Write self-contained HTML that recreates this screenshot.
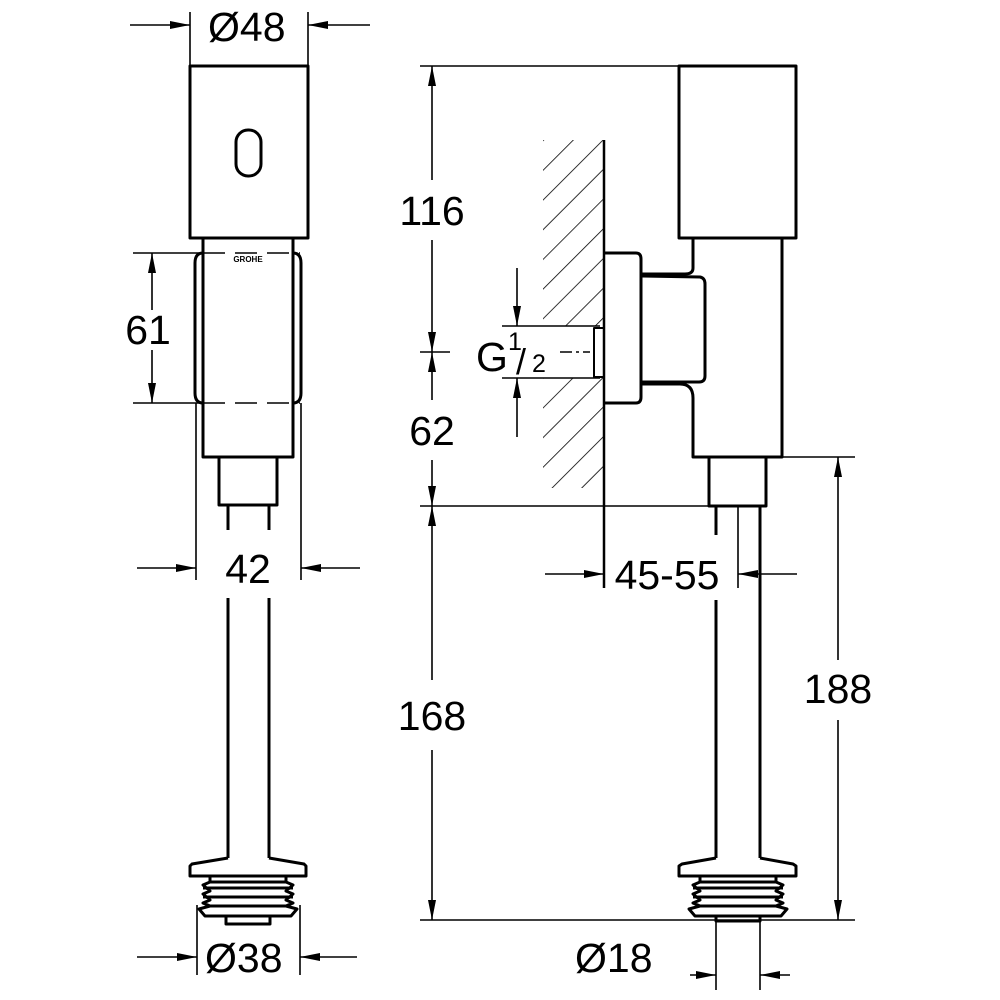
<!DOCTYPE html>
<html><head><meta charset="utf-8"><style>
html,body{margin:0;padding:0;background:#fff}
svg{display:block}
text{font-family:"Liberation Sans",sans-serif;font-size:41px;fill:#000}
</style></head><body>
<svg width="1000" height="1000" viewBox="0 0 1000 1000" xmlns="http://www.w3.org/2000/svg">
<defs>
<marker id="a" viewBox="0 0 20 8" refX="20" refY="4" markerWidth="20" markerHeight="8" markerUnits="userSpaceOnUse" orient="auto"><path d="M0,0L20,4L0,8z" fill="#000"/></marker>
<pattern id="h" width="21" height="21" patternUnits="userSpaceOnUse" patternTransform="rotate(45)"><line x1="0" y1="0" x2="0" y2="21" stroke="#000" stroke-width="1.6"/></pattern>
</defs>
<g fill="none" stroke="#000" stroke-width="3" stroke-linejoin="round">
<rect x="190" y="66" width="118" height="172" fill="#fff"/>
<rect x="236" y="130" width="25" height="46" rx="12"/>
<rect x="203" y="238" width="90" height="219"/>
<path d="M203,253 Q195,253 195,263 L195,393 Q195,403 203,403 M293,253 Q301,253 301,263 L301,393 Q301,403 293,403"/>
<rect x="219" y="457" width="58" height="48"/>
<line x1="228" y1="505" x2="228" y2="530"/><line x1="269" y1="505" x2="269" y2="530"/>
<line x1="228" y1="598" x2="228" y2="858"/><line x1="269" y1="598" x2="269" y2="858"/>
<path d="M228,858 L192,864 L190,866 L190,876 L306,876 L306,866 L304,864 L269,858"/>
<path d="M210,876 L210,882 L286,882 L286,876"/>
<path d="M210,882 L203,885 L210,891 L203,894 L210,900 L203,903 L210,906 M286,882 L293,885 L286,891 L293,894 L286,900 L293,903 L286,906 M203,888 L293,888 M203,897 L293,897"/>
<path d="M210,906 L199,909 L205,916 L291,916 L297,909 L286,906 Z"/>
<rect x="226" y="916" width="44" height="8"/>
<rect x="679" y="66" width="117" height="172"/>
<path d="M693,238 L693,268 Q693,274 685,274 L642,274"/>
<path d="M782,238 L782,457 L693,457 L693,398 Q693,384 680,384 L642,384"/>
<path d="M642,276 L700,277 Q705,278 705,284 L705,376 Q705,382 699,382 L642,382"/>
<path d="M604,253 L636,253 Q641,253 641,259 L641,397 Q641,403 636,403 L604,403"/>
<rect x="709" y="457" width="57" height="49"/>
<line x1="716" y1="506" x2="716" y2="535"/><line x1="716" y1="600" x2="716" y2="858"/>
<line x1="760" y1="506" x2="760" y2="858"/>
<path d="M716,858 L682,864 L679,866 L679,876 L796,876 L796,866 L793,864 L760,858"/>
<path d="M700,876 L700,882 L776,882 L776,876"/>
<path d="M700,882 L693,885 L700,891 L693,894 L700,900 L693,903 L700,906 M776,882 L783,885 L776,891 L783,894 L776,900 L783,903 L776,906 M693,888 L783,888 M693,897 L783,897"/>
<path d="M700,906 L689,909 L695,916 L781,916 L787,909 L776,906 Z"/>
<rect x="716" y="916" width="44" height="5"/>
<rect x="594" y="328" width="10" height="49" stroke-width="2"/>
</g>
<path d="M543,140 L604,140 L604,326 L543,326 Z M543,378 L604,378 L604,488 L543,488 Z" fill="url(#h)"/>
<line x1="604" y1="140" x2="604" y2="588" stroke="#000" stroke-width="2.5"/>
<g stroke="#000" stroke-width="1.6" fill="none">
<line x1="190" y1="12" x2="190" y2="66"/><line x1="308" y1="12" x2="308" y2="66"/>
<line x1="130" y1="25" x2="190" y2="25" marker-end="url(#a)"/><line x1="370" y1="25" x2="308" y2="25" marker-end="url(#a)"/>
<line x1="133" y1="253" x2="200" y2="253"/><line x1="133" y1="403" x2="200" y2="403"/>
<path d="M203,253 H300 M203,403 H300" stroke-dasharray="22,10"/>
<line x1="152" y1="310" x2="152" y2="253" marker-end="url(#a)"/><line x1="152" y1="350" x2="152" y2="403" marker-end="url(#a)"/>
<line x1="196" y1="403" x2="196" y2="580"/><line x1="301" y1="403" x2="301" y2="580"/>
<line x1="137" y1="568" x2="196" y2="568" marker-end="url(#a)"/><line x1="360" y1="568" x2="301" y2="568" marker-end="url(#a)"/>
<line x1="197" y1="905" x2="197" y2="975"/><line x1="300" y1="905" x2="300" y2="975"/>
<line x1="137" y1="957" x2="197" y2="957" marker-end="url(#a)"/><line x1="357" y1="957" x2="300" y2="957" marker-end="url(#a)"/>
<line x1="420" y1="66" x2="679" y2="66"/>
<line x1="420" y1="506" x2="709" y2="506"/>
<line x1="420" y1="920" x2="855" y2="920"/>
<line x1="420" y1="352" x2="450" y2="352"/>
<line x1="432" y1="180" x2="432" y2="66" marker-end="url(#a)"/>
<line x1="432" y1="240" x2="432" y2="352" marker-end="url(#a)"/>
<line x1="432" y1="400" x2="432" y2="352" marker-end="url(#a)"/>
<line x1="432" y1="460" x2="432" y2="506" marker-end="url(#a)"/>
<line x1="432" y1="680" x2="432" y2="506" marker-end="url(#a)"/>
<line x1="432" y1="750" x2="432" y2="920" marker-end="url(#a)"/>
<line x1="502" y1="326" x2="600" y2="326"/><line x1="502" y1="378" x2="600" y2="378"/>
<line x1="517" y1="268" x2="517" y2="326" marker-end="url(#a)"/><line x1="517" y1="437" x2="517" y2="378" marker-end="url(#a)"/>
<path d="M560,352 H590" stroke-dasharray="12,4,3,4"/>
<line x1="738" y1="506" x2="738" y2="588"/>
<line x1="545" y1="574" x2="604" y2="574" marker-end="url(#a)"/><line x1="797" y1="574" x2="738" y2="574" marker-end="url(#a)"/>
<line x1="766" y1="457" x2="855" y2="457"/>
<line x1="838" y1="660" x2="838" y2="457" marker-end="url(#a)"/><line x1="838" y1="720" x2="838" y2="920" marker-end="url(#a)"/>
<line x1="716" y1="920" x2="716" y2="990"/><line x1="760" y1="920" x2="760" y2="990"/>
<line x1="690" y1="975" x2="716" y2="975" marker-end="url(#a)"/><line x1="790" y1="975" x2="760" y2="975" marker-end="url(#a)"/>
</g>
<text x="208" y="41">Ø48</text>
<text x="148" y="344" text-anchor="middle">61</text>
<text x="248" y="583" text-anchor="middle">42</text>
<text x="205" y="972">Ø38</text>
<text x="432" y="225" text-anchor="middle">116</text>
<text x="432" y="445" text-anchor="middle">62</text>
<text x="432" y="730" text-anchor="middle">168</text>
<text x="838" y="703" text-anchor="middle">188</text>
<text x="667" y="589" text-anchor="middle">45-55</text>
<text x="575" y="972">Ø18</text>
<text x="476" y="371">G</text><text x="508" y="350" style="font-size:25px">1</text><text x="516" y="374" style="font-size:36px">/</text><text x="532" y="372" style="font-size:25px">2</text>
<text x="248" y="262" text-anchor="middle" style="font-size:8px;font-weight:bold">GROHE</text>
</svg>
</body></html>
